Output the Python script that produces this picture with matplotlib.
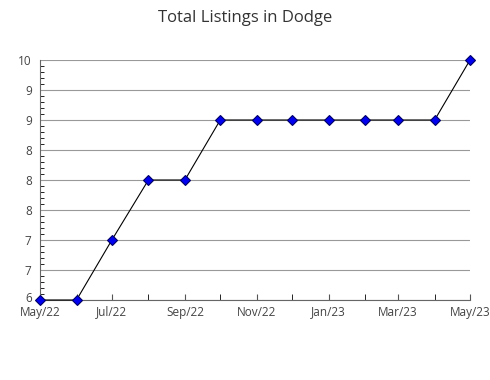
import pandas as pd
import matplotlib.pyplot as plt
import matplotlib.dates as mdates
import matplotlib.transforms as mtransforms
from matplotlib.ticker import FixedLocator, MultipleLocator

# Datos
months = ['2022-05', '2022-06', '2022-07', '2022-08', '2022-09', '2022-10', '2022-11',
          '2022-12', '2023-01', '2023-02', '2023-03', '2023-04', '2023-05']
listings = [6, 6, 7, 8, 8, 9, 9, 9, 9, 9, 9, 9, 10]
y_ticks = [6, 6.5, 7, 7.5, 8, 8.5, 9, 9.5, 10]
y_labels = ['6', '7', '7', '8', '8', '8', '9', '9', '10']

dates = pd.to_datetime(months)

plt.rcParams['font.family'] = ['Open Sans', 'DejaVu Sans']

fig = plt.figure(figsize=(4.9, 3.8), dpi=100)
ax = fig.add_axes([40 / 490, 80 / 380, 430 / 490, 240 / 380])

ax.plot(dates, listings, color='black', linewidth=0.8, marker='D', markersize=5.5,
        markerfacecolor='#0000ee', markeredgecolor='#000066', markeredgewidth=0.8,
        clip_on=False, zorder=3)

ax.set_xlim(dates[0], dates[-1])
ax.set_ylim(6, 10)

# Ejes
ax.xaxis.set_major_locator(mdates.MonthLocator(bymonth=[1, 3, 5, 7, 9, 11]))
ax.xaxis.set_minor_locator(mdates.MonthLocator())
ax.xaxis.set_major_formatter(mdates.DateFormatter('%b/%y'))
ax.yaxis.set_major_locator(FixedLocator(y_ticks))
ax.set_yticklabels(y_labels)
ax.yaxis.set_minor_locator(MultipleLocator(0.1))

ax.tick_params(axis='both', colors='#555555', labelcolor='#444444', labelsize=8.5)
ax.tick_params(axis='x', which='both', length=4, direction='in', pad=4)
ax.tick_params(axis='y', which='major', length=0, pad=6)
ax.tick_params(axis='y', which='minor', length=3, direction='in')

# subir un poco la etiqueta "6" para que no pise "May/22"
lbl = ax.get_yticklabels()[0]
lbl.set_transform(lbl.get_transform() + mtransforms.ScaledTranslation(0, 2 / 72, fig.dpi_scale_trans))

for s in ['top', 'right']:
    ax.spines[s].set_visible(False)
for s in ['left', 'bottom']:
    ax.spines[s].set_color('#666666')

ax.grid(axis='y', color='#999999', linewidth=0.8)
ax.set_axisbelow(True)

fig.suptitle('Total Listings in Dodge', y=0.975, fontsize=12, color='#333333')

plt.savefig('out.png', dpi=100)
